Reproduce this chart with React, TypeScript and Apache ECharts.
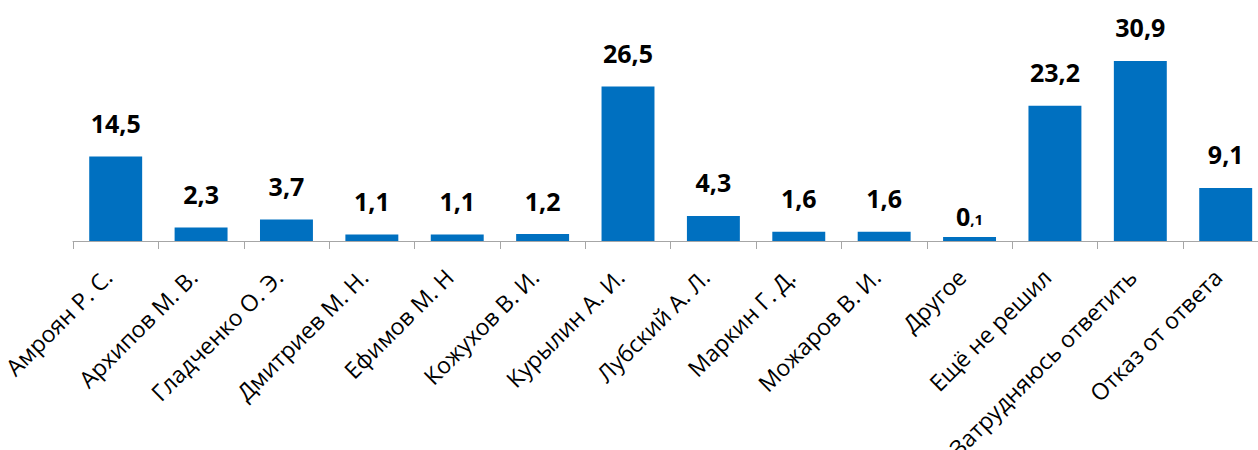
import React, { useEffect, useRef } from "react";
import * as echarts from "echarts";

const categories = [
  "Амроян Р. С.",
  "Архипов М. В.",
  "Гладченко О. Э.",
  "Дмитриев М. Н.",
  "Ефимов М. Н",
  "Кожухов В. И.",
  "Курылин А. И.",
  "Лубский А. Л.",
  "Маркин Г. Д.",
  "Можаров В. И.",
  "Другое",
  "Ещё не решил",
  "Затрудняюсь ответить",
  "Отказ от ответа",
];

const values = [14.5, 2.3, 3.7, 1.1, 1.1, 1.2, 26.5, 4.3, 1.6, 1.6, 0.1, 23.2, 30.9, 9.1];

const fmt = (v: number) => v.toFixed(1).replace(".", ",");

export default function App() {
  const ref = useRef<HTMLDivElement>(null);
  useEffect(() => {
    document.body.style.margin = "0";
    if (!ref.current) return;
    const chart = echarts.init(ref.current, null, { renderer: "svg" });
    const data = values.map((v) => {
      if (v < 0.5) {
        return {
          value: v,
          label: {
            distance: 9,
            formatter: () => {
              const s = fmt(v);
              const [a, b] = s.split(",");
              return `{big|${a}}{small|,${b}}`;
            },
          },
        };
      }
      return { value: v };
    });
    chart.setOption({
      animation: false,
      grid: {
        left: 73,
        width: 1195.4,
        top: 37,
        bottom: 209,
        containLabel: false,
        outerBoundsMode: "none",
      },
      xAxis: {
        type: "category",
        data: categories,
        axisLine: { lineStyle: { color: "#A6A6A6", width: 1 } },
        axisTick: { show: true, length: 8, lineStyle: { color: "#A6A6A6" } },
        axisLabel: {
          interval: 0,
          rotate: 45,
          margin: 40,
          align: "right",
          verticalAlign: "bottom",
          color: "#000",
          fontFamily: "Open Sans",
          fontSize: 23,
        },
      },
      yAxis: {
        type: "value",
        min: 0,
        max: 35,
        show: false,
        splitLine: { show: false },
      },
      series: [
        {
          type: "bar",
          data,
          barCategoryGap: "38%",
          barMinHeight: 4,
          itemStyle: { color: "#0070C0" },
          label: {
            show: true,
            position: "top",
            distance: 21,
            color: "#000",
            fontFamily: "Open Sans",
            fontWeight: "bold",
            fontSize: 25,
            formatter: (p: any) => fmt(p.value),
            rich: {
              big: { fontFamily: "Open Sans", fontWeight: "bold", fontSize: 25, color: "#000" },
              small: { fontFamily: "Open Sans", fontSize: 15, color: "#000", padding: [6, 0, 0, 0] },
            },
          },
        },
      ],
    });
    return () => chart.dispose();
  }, []);
  return <div ref={ref} style={{ width: 1258, height: 450 }} />;
}
